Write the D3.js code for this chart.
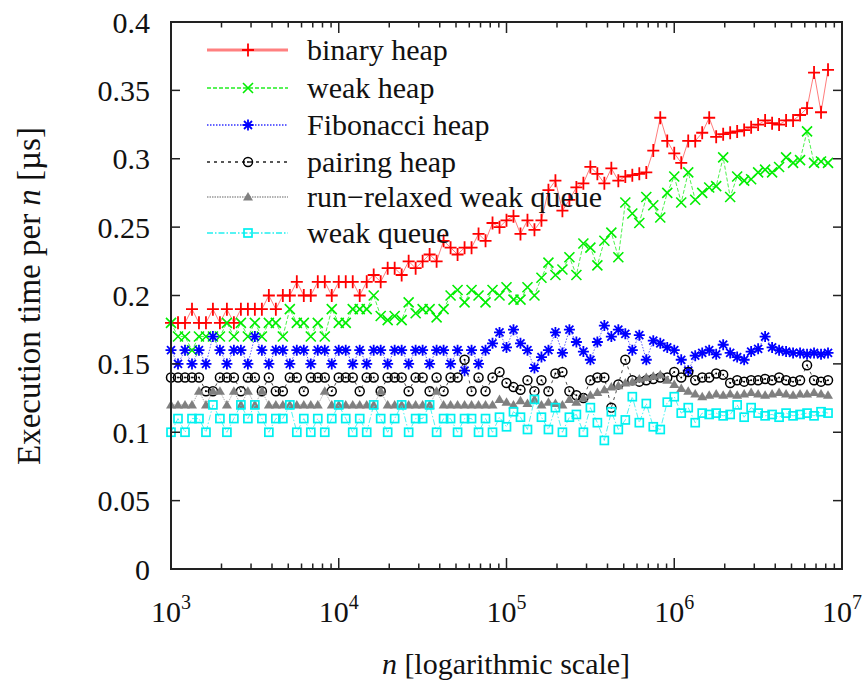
<!DOCTYPE html>
<html><head><meta charset="utf-8">
<script src="https://cdn.jsdelivr.net/npm/d3@7"></script>
<style>body{margin:0;background:#fff}</style>
</head><body>
<svg id="c" width="863" height="682"></svg>
<script>
const sizes = [1000,1101,1212,1334,1468,1616,1778,1957,2154,2371,2610,2873,3162,3481,3831,4217,4642,5109,5623,6190,6813,7499,8254,9085,
10000,11007,12115,13335,14678,16156,17783,19573,21544,23714,26102,28730,31623,34807,38312,42170,46416,51090,56234,61897,68129,74989,82540,90852,
100000,110069,121153,133352,146780,161560,177828,195734,215443,237137,261016,287298,316228,348070,383119,421697,464159,510897,562341,618966,681292,749894,825404,908518,
1000000,1100694,1211528,1333521,1467799,1615598,1778279,1957342,2154435,2371374,2610157,2872985,3162278,3480701,3831187,4216965,4641589,5108970,5623413,6189658,6812921,7498942,8254042];

const seriesNames = ["binary heap","weak heap","Fibonacci heap","pairing heap","run\u2212relaxed weak queue","weak queue"];

const binaryHeap = [0.18,0.18,0.18,0.19,0.18,0.18,0.19,0.18,0.19,0.18,0.19,0.19,0.19,0.19,0.20,0.19,0.20,0.20,0.21,0.20,0.20,0.21,0.21,0.20,
0.21,0.21,0.21,0.20,0.21,0.215,0.21,0.22,0.22,0.215,0.225,0.22,0.225,0.23,0.225,0.24,0.235,0.23,0.235,0.235,0.245,0.24,0.253,0.25,
0.255,0.258,0.245,0.255,0.248,0.255,0.277,0.284,0.262,0.27,0.279,0.282,0.294,0.289,0.282,0.293,0.284,0.287,0.288,0.289,0.29,0.306,0.33,0.313,
0.304,0.297,0.313,0.313,0.319,0.33,0.316,0.318,0.319,0.32,0.321,0.323,0.325,0.328,0.326,0.325,0.328,0.328,0.332,0.337,0.363,0.334,0.365];

const weakHeap = [0.18,0.17,0.17,0.16,0.17,0.17,0.17,0.17,0.18,0.17,0.18,0.17,0.18,0.17,0.18,0.18,0.17,0.19,0.18,0.18,0.17,0.18,0.17,0.19,
0.18,0.18,0.19,0.19,0.19,0.20,0.185,0.182,0.185,0.182,0.195,0.187,0.19,0.19,0.184,0.19,0.20,0.204,0.195,0.204,0.20,0.195,0.204,0.20,
0.206,0.197,0.197,0.206,0.20,0.213,0.224,0.215,0.219,0.228,0.215,0.238,0.235,0.222,0.24,0.246,0.228,0.268,0.26,0.253,0.272,0.266,0.257,0.275,
0.287,0.268,0.29,0.27,0.275,0.279,0.28,0.301,0.272,0.287,0.284,0.285,0.29,0.292,0.29,0.294,0.301,0.297,0.299,0.32,0.297,0.298,0.297];

const fibonacciHeap = [0.16,0.15,0.16,0.15,0.16,0.15,0.17,0.16,0.15,0.16,0.16,0.15,0.17,0.16,0.15,0.16,0.16,0.15,0.16,0.16,0.15,0.16,0.16,0.15,
0.16,0.16,0.15,0.16,0.15,0.16,0.16,0.15,0.16,0.16,0.15,0.16,0.16,0.15,0.16,0.16,0.15,0.16,0.145,0.16,0.15,0.16,0.165,0.173,
0.162,0.175,0.165,0.16,0.147,0.155,0.16,0.173,0.158,0.175,0.166,0.159,0.153,0.166,0.178,0.17,0.175,0.172,0.16,0.171,0.153,0.167,0.165,0.162,
0.16,0.153,0.145,0.156,0.158,0.16,0.157,0.164,0.158,0.155,0.153,0.159,0.161,0.17,0.162,0.16,0.159,0.158,0.158,0.157,0.158,0.157,0.158];

const pairingHeap = [0.14,0.14,0.14,0.14,0.14,0.13,0.13,0.14,0.14,0.14,0.13,0.14,0.14,0.13,0.14,0.13,0.13,0.14,0.14,0.13,0.14,0.14,0.14,0.13,
0.14,0.14,0.14,0.13,0.14,0.14,0.13,0.14,0.14,0.14,0.13,0.14,0.14,0.13,0.14,0.13,0.14,0.14,0.153,0.13,0.14,0.13,0.14,0.144,
0.136,0.133,0.131,0.138,0.13,0.138,0.13,0.143,0.144,0.13,0.127,0.125,0.138,0.14,0.14,0.118,0.135,0.153,0.138,0.137,0.138,0.139,0.14,0.14,
0.144,0.14,0.144,0.138,0.14,0.14,0.143,0.142,0.136,0.138,0.137,0.138,0.138,0.139,0.138,0.14,0.138,0.137,0.138,0.149,0.138,0.137,0.138];

const runRelaxedWeakQueue = [0.12,0.12,0.12,0.12,0.13,0.12,0.13,0.13,0.12,0.13,0.12,0.13,0.12,0.13,0.12,0.12,0.12,0.12,0.12,0.12,0.12,0.12,0.13,0.12,
0.12,0.12,0.12,0.12,0.12,0.12,0.13,0.12,0.12,0.12,0.12,0.12,0.12,0.12,0.13,0.12,0.12,0.12,0.12,0.12,0.12,0.12,0.12,0.124,
0.122,0.12,0.123,0.121,0.124,0.12,0.122,0.121,0.12,0.124,0.122,0.125,0.127,0.129,0.131,0.133,0.134,0.136,0.137,0.139,0.14,0.141,0.142,0.138,
0.135,0.132,0.13,0.128,0.126,0.127,0.128,0.127,0.128,0.127,0.128,0.129,0.128,0.127,0.128,0.129,0.128,0.127,0.128,0.128,0.129,0.128,0.127];

const weakQueue = [0.10,0.11,0.10,0.11,0.11,0.10,0.12,0.11,0.10,0.11,0.12,0.11,0.12,0.11,0.10,0.11,0.11,0.12,0.10,0.11,0.10,0.11,0.10,0.11,
0.12,0.11,0.10,0.11,0.10,0.12,0.11,0.10,0.11,0.12,0.10,0.11,0.11,0.12,0.10,0.11,0.11,0.10,0.11,0.11,0.10,0.11,0.10,0.111,
0.104,0.115,0.111,0.102,0.124,0.111,0.102,0.118,0.10,0.111,0.113,0.10,0.118,0.107,0.094,0.115,0.102,0.109,0.126,0.107,0.121,0.104,0.102,0.122,
0.126,0.114,0.118,0.107,0.114,0.113,0.114,0.112,0.113,0.12,0.111,0.118,0.114,0.112,0.113,0.111,0.114,0.112,0.113,0.114,0.112,0.115,0.114];

const yTicks = [0,0.05,0.1,0.15,0.2,0.25,0.3,0.35,0.4];
const yTickLabels = ["0","0.05","0.1","0.15","0.2","0.25","0.3","0.35","0.4"];
const xTickExponents = [3,4,5,6,7];

const allSeries = [binaryHeap, weakHeap, fibonacciHeap, pairingHeap, runRelaxedWeakQueue, weakQueue];
const colors = ["#ff0000","#00ee00","#0000ff","#000000","#808080","#00f0f0"];
const lineColors = ["#ff5050","#22ee22","#3030ff","#222222","#999999","#20f0f0"];
const dashes = [null,"4,2","1.5,1.5","3,4","1.5,1","6,2,1.5,2"];
const markers = ["plus","cross","star","circle","triangle","square"];

const svg = d3.select("#c");
const L=171,R=842,T=22,B=569;
const x = d3.scaleLog().domain([1e3,1e7]).range([L,R]);
const y = d3.scaleLinear().domain([0,0.4]).range([B,T]);
const font = "Liberation Serif";

function drawMarker(g, type, cx, cy, col){
  if(type==="plus"){
    g.append("path").attr("d",`M${cx-6},${cy}H${cx+6}M${cx},${cy-6.5}V${cy+6.5}`).attr("stroke",col).attr("stroke-width",1.8).attr("fill","none");
  } else if(type==="cross"){
    g.append("path").attr("d",`M${cx-5},${cy-5}L${cx+5},${cy+5}M${cx-5},${cy+5}L${cx+5},${cy-5}`).attr("stroke",col).attr("stroke-width",1.6).attr("fill","none");
  } else if(type==="star"){
    g.append("path").attr("d",`M${cx-5.5},${cy}H${cx+5.5}M${cx},${cy-5.5}V${cy+5.5}M${cx-4},${cy-4}L${cx+4},${cy+4}M${cx-4},${cy+4}L${cx+4},${cy-4}`).attr("stroke",col).attr("stroke-width",1.8).attr("fill","none");
  } else if(type==="circle"){
    g.append("circle").attr("cx",cx).attr("cy",cy).attr("r",4.5).attr("stroke",col).attr("stroke-width",1.5).attr("fill","none");
    g.append("circle").attr("cx",cx).attr("cy",cy).attr("r",1).attr("fill",col);
  } else if(type==="triangle"){
    g.append("path").attr("d",`M${cx},${cy-5}L${cx+5},${cy+3.5}L${cx-5},${cy+3.5}Z`).attr("fill",col);
  } else if(type==="square"){
    g.append("rect").attr("x",cx-4).attr("y",cy-4).attr("width",8).attr("height",8).attr("stroke",col).attr("stroke-width",1.7).attr("fill","none");
  }
}

// series
allSeries.forEach((vals,k)=>{
  const g = svg.append("g");
  const line = d3.line().x((d,i)=>x(sizes[i])).y(d=>y(d));
  g.append("path").attr("d",line(vals)).attr("fill","none")
    .attr("stroke",lineColors[k]).attr("stroke-width",1).attr("stroke-opacity",k===0?0.75:0.8)
    .attr("stroke-dasharray",dashes[k]);
  vals.forEach((v,i)=>drawMarker(g,markers[k],x(sizes[i]),y(v),colors[k]));
});

// frame
svg.append("rect").attr("x",L).attr("y",T).attr("width",R-L).attr("height",B-T)
  .attr("fill","none").attr("stroke","#222").attr("stroke-width",2);

// y ticks
yTicks.forEach((t,i)=>{
  const yy=y(t);
  if(i>0 && i<yTicks.length-1){
    svg.append("line").attr("x1",L).attr("x2",L+9).attr("y1",yy).attr("y2",yy).attr("stroke","#222").attr("stroke-width",1.5);
    svg.append("line").attr("x1",R).attr("x2",R-9).attr("y1",yy).attr("y2",yy).attr("stroke","#222").attr("stroke-width",1.5);
  }
  svg.append("text").attr("x",150).attr("y",yy).attr("dy","0.35em").attr("text-anchor","end")
    .attr("font-family",font).attr("font-size",30).attr("fill","#111").text(yTickLabels[i]);
});

// x ticks
const minor = [];
for(let e=3;e<7;e++){ for(let m=2;m<=9;m++) minor.push(m*Math.pow(10,e)); }
minor.forEach(v=>{
  const xx=x(v);
  svg.append("line").attr("x1",xx).attr("x2",xx).attr("y1",B).attr("y2",B-5.5).attr("stroke","#222").attr("stroke-width",1.5);
  svg.append("line").attr("x1",xx).attr("x2",xx).attr("y1",T).attr("y2",T+5.5).attr("stroke","#222").attr("stroke-width",1.5);
});
xTickExponents.forEach((e,i)=>{
  const xx=x(Math.pow(10,e));
  if(i>0 && i<xTickExponents.length-1){
    svg.append("line").attr("x1",xx).attr("x2",xx).attr("y1",B).attr("y2",B-11).attr("stroke","#222").attr("stroke-width",1.5);
    svg.append("line").attr("x1",xx).attr("x2",xx).attr("y1",T).attr("y2",T+11).attr("stroke","#222").attr("stroke-width",1.5);
  }
  const t = svg.append("text").attr("x",xx).attr("y",622).attr("text-anchor","middle")
    .attr("font-family",font).attr("font-size",30).attr("fill","#111");
  t.append("tspan").text("10");
  t.append("tspan").attr("font-size",20).attr("dy",-13).text(String(e));
});

// axis titles
const xt = svg.append("text").attr("x",506).attr("y",674).attr("text-anchor","middle")
  .attr("font-family",font).attr("font-size",30).attr("fill","#111");
xt.append("tspan").attr("font-style","italic").text("n");
xt.append("tspan").text(" [logarithmic scale]");

const yt = svg.append("text").attr("transform","translate(40,296) rotate(-90)").attr("text-anchor","middle")
  .attr("font-family",font).attr("font-size",33).attr("fill","#111");
yt.append("tspan").text("Execution time per ");
yt.append("tspan").attr("font-style","italic").text("n");
yt.append("tspan").text(" [\u00b5s]");

// legend
const legY = [50,88,125,162,197,233];
seriesNames.forEach((name,k)=>{
  const ly = legY[k];
  svg.append("line").attr("x1",207).attr("x2",288).attr("y1",ly).attr("y2",ly)
    .attr("stroke",k===0?"#ff8080":lineColors[k]).attr("stroke-width",k===0?3:1.5)
    .attr("stroke-dasharray",dashes[k]);
  drawMarker(svg,markers[k],248,ly,colors[k]);
  svg.append("text").attr("x",307).attr("y",ly).attr("dy","0.32em")
    .attr("font-family",font).attr("font-size",30).attr("fill","#111").text(name);
});
</script>
</body></html>
